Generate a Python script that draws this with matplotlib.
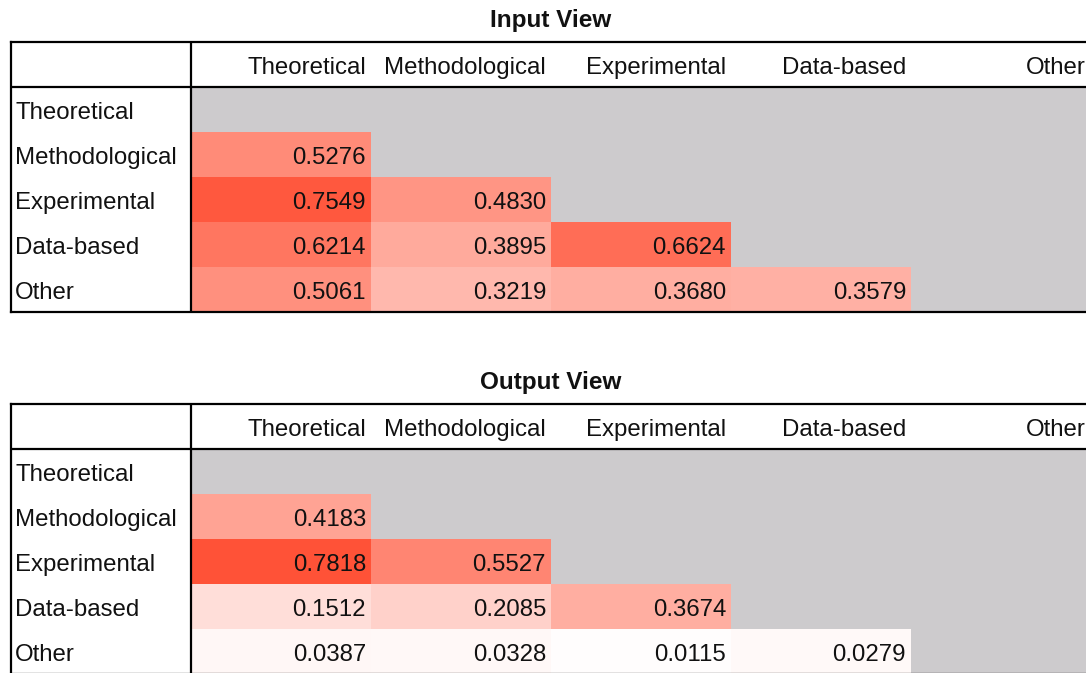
import numpy as np
import matplotlib
matplotlib.use("Agg")
import matplotlib.pyplot as plt
from matplotlib.colors import LinearSegmentedColormap

plt.rcParams['font.family'] = ['Liberation Sans', 'DejaVu Sans']

categories = ["Theoretical", "Methodological", "Experimental", "Data-based", "Other"]

# lower-triangle values (row i, columns 0..i-1)
input_rows = [
    [],
    [0.5276],
    [0.7549, 0.4830],
    [0.6214, 0.3895, 0.6624],
    [0.5061, 0.3219, 0.3680, 0.3579],
]
output_rows = [
    [],
    [0.4183],
    [0.7818, 0.5527],
    [0.1512, 0.2085, 0.3674],
    [0.0387, 0.0328, 0.0115, 0.0279],
]
titles = ["Input View", "Output View"]

W, H = 1086, 673
fig = plt.figure(figsize=(W / 100, H / 100), dpi=100)

cmap = LinearSegmentedColormap.from_list("wr", ["#ffffff", "#ff2300"])
cmap.set_bad("#cdcbcd")

def to_matrix(rows):
    n = len(categories)
    m = np.full((n, n), np.nan)
    for i, r in enumerate(rows):
        for j, v in enumerate(r):
            m[i, j] = v
    return m

tops = [42, 404]
left_px, width_px, height_px = 11, 1080, 270
fs = 17.3
txt_col = "#111111"

for title, rows, top in zip(titles, [input_rows, output_rows], tops):
    ax = fig.add_axes([left_px / W, 1 - (top + height_px) / H, width_px / W, height_px / H])
    n = len(categories)
    mat = np.ma.masked_invalid(to_matrix(rows))
    xe = np.arange(1, n + 2)
    ye = np.arange(1, n + 2)
    ax.pcolormesh(xe, ye, mat, cmap=cmap, vmin=0, vmax=1, shading="flat")
    ax.set_xlim(0, n + 1)
    ax.set_ylim(n + 1, 0)
    ax.set_xticks([])
    ax.set_yticks([])
    for s in ax.spines.values():
        s.set_linewidth(1.6)
        s.set_color("black")
    ax.axvline(1, color="black", lw=1.6)
    ax.axhline(1, color="black", lw=1.6)

    pad_x = 5 / 180
    dy = 0.03
    for j, c in enumerate(categories):
        ax.text(j + 2 - pad_x, 0.5 + dy, c, ha="right", va="center_baseline",
                fontsize=fs, color=txt_col)
    for i, c in enumerate(categories):
        ax.text(0 + 4 / 180, i + 1.5 + dy, c, ha="left", va="center_baseline",
                fontsize=fs, color=txt_col)
        for j, v in enumerate(rows[i]):
            ax.text(j + 2 - pad_x, i + 1.5 + dy, f"{v:.4f}", ha="right",
                    va="center_baseline", fontsize=fs, color=txt_col)

    ax.text(0.5, 1 + 24 / height_px, title, transform=ax.transAxes, ha="center",
            va="center_baseline", fontsize=17.5, fontweight="bold", color=txt_col)

fig.savefig("out.png", dpi=100)
